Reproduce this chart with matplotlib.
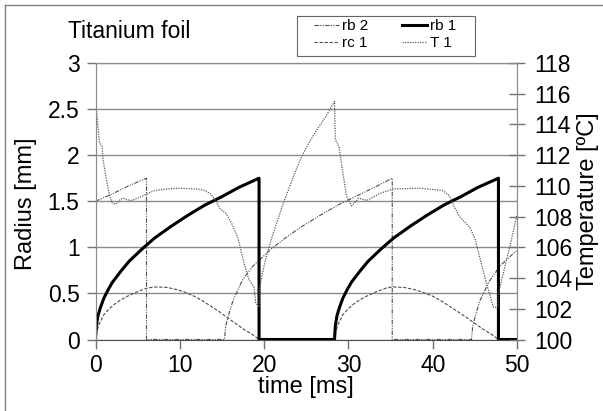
import matplotlib
matplotlib.use("Agg")
import matplotlib.pyplot as plt
from matplotlib.lines import Line2D
from matplotlib.patches import Rectangle

plt.rcParams["font.family"] = ["Liberation Sans", "DejaVu Sans"]

# bubble 1 radius [mm]
t_rb1 = [0, 0.1, 0.3, 0.6, 1.0, 1.5, 2.0, 3.0, 4.0, 5.5, 7.0, 9.0, 11.0, 13.0, 15.0, 17.0, 19.4,
         19.4, 28.35,
         28.45, 28.65, 28.95, 29.35, 29.85, 30.35, 31.35, 32.35, 33.85, 35.35, 37.35, 39.35, 41.35,
         43.35, 45.35, 47.8,
         47.8, 50]
rb1 = [0, 0.15, 0.26, 0.35, 0.45, 0.54, 0.62, 0.74, 0.85, 0.98, 1.1, 1.23, 1.35, 1.46, 1.55, 1.65, 1.75,
       0, 0,
       0.15, 0.26, 0.35, 0.45, 0.54, 0.62, 0.74, 0.85, 0.98, 1.1, 1.23, 1.35, 1.46,
       1.55, 1.65, 1.75,
       0, 0]

# bubble 2 radius [mm]
t_rb2 = [0, 2.0, 4.0, 6.05, 6.05, 15.3,
         15.45, 15.8, 16.3, 17.4, 18.6, 20.8, 22.5, 24.2, 26.5, 29.0, 31.5, 33.5, 35.2,
         35.2, 44.6,
         44.75, 45.1, 45.6, 46.7, 48.0, 50.0]
rb2 = [1.5, 1.58, 1.67, 1.75, 0, 0,
       0.15, 0.27, 0.42, 0.64, 0.79, 0.98, 1.1, 1.21, 1.34, 1.47, 1.58, 1.67, 1.75,
       0, 0,
       0.15, 0.27, 0.42, 0.63, 0.8, 0.97]

# contact radius of bubble 1 [mm]
t_rc1 = [0, 0.15, 0.4, 1.0, 1.6, 2.2, 3.0, 3.8, 5.0, 6.2, 7.2, 8.5, 9.7, 10.7, 11.7, 12.7, 13.7,
         14.7, 15.6, 16.6, 17.6, 18.6, 19.4,
         28.35, 28.5, 28.75, 29.35, 29.95, 30.55, 31.35, 32.15, 33.35, 34.55, 35.3, 36.6, 37.9,
         38.9, 40.0, 41.0, 42.0, 43.0, 44.0, 45.0, 46.0, 47.0, 47.8, 50]
rc1 = [0, 0.08, 0.16, 0.27, 0.33, 0.38, 0.43, 0.47, 0.52, 0.56, 0.57, 0.565, 0.54, 0.51, 0.47, 0.42, 0.36,
       0.30, 0.24, 0.175, 0.11, 0.055, 0,
       0, 0.08, 0.16, 0.27, 0.33, 0.38, 0.43, 0.47, 0.52, 0.56, 0.57, 0.565, 0.54,
       0.51, 0.47, 0.42, 0.36, 0.30, 0.24, 0.175, 0.11, 0.055, 0, 0]

# wall temperature [degC]
t_T1 = [0.0, 0.28, 0.48, 0.77, 0.9, 1.3, 1.7, 2.0, 2.3, 2.6, 3.0, 3.3, 3.7, 4.3, 5.0, 6.0, 7.0, 8.5,
        10.0, 12.0, 13.0, 13.6, 14.2, 14.8, 15.5, 16.3, 16.9, 17.6, 18.2, 18.8, 19.0, 19.4,
        19.45, 19.8, 20.3, 20.9, 21.5, 22.3, 23.2, 24.2, 25.2, 26.2, 27.3, 28.35,
        28.45, 28.6, 28.9, 29.3, 29.8, 30.4, 30.9, 31.2, 32.2, 33.7, 35.3, 38.5, 41.2, 42.0,
        42.6, 43.2, 44.4, 45.0, 45.6, 46.4, 47.2, 47.75, 47.8, 48.5, 49.3, 50.0]
T1 = [115.5, 113.9, 112.8, 112.6, 111.7, 110.4, 109.3, 108.9, 108.8, 108.9, 109.15, 109.2, 109.1,
      109.05, 109.2, 109.45, 109.7, 109.8,
      109.85, 109.8, 109.7, 109.5, 109.1, 108.5, 108.2, 107.4, 106.6, 105.0, 103.9, 103.4, 102.4, 102.1,
      103.3, 104.3, 105.5, 106.6, 107.6, 108.9, 110.2, 111.6, 112.7, 113.6, 114.5, 115.5,
      113.0, 112.9, 112.5, 111.0, 109.3, 108.7, 109.0, 109.2, 109.05, 109.5, 109.8, 109.85, 109.7, 109.35,
      108.6, 108.0, 107.3, 106.6, 105.3, 103.6, 102.1, 102.1, 103.0, 104.6, 106.4, 108.1]

x_ticks = [0, 10, 20, 30, 40, 50]
r_ticks = [0, 0.5, 1, 1.5, 2, 2.5, 3]
r_labels = ["0", "0.5", "1", "1.5", "2", "2.5", "3"]
T_ticks = [100, 102, 104, 106, 108, 110, 112, 114, 116, 118]

W, H = 603, 411


def desenhar():
    fig = plt.figure(figsize=(W / 100, H / 100), dpi=100)
    ax = fig.add_axes([95.5 / W, 1 - 339.5 / H, 421.5 / W, 276.5 / H])
    ax2 = ax.twinx()

    cor = "0.3"
    l_rb2, = ax.plot(t_rb2, rb2, color=cor, lw=0.8, dashes=(4, 1.2, 1, 1.2, 1, 1.2), label="rb 2")
    l_rc1, = ax.plot(t_rc1, rc1, color=cor, lw=0.8, dashes=(3, 1.5), label="rc 1")
    l_rb1, = ax.plot(t_rb1, rb1, color="black", lw=2.2, label="rb 1", zorder=5)
    l_T1, = ax2.plot(t_T1, T1, color="0.35", lw=0.9, dashes=(1, 1), label="T 1")

    ax.set_xlim(0, 50)
    ax.set_ylim(0, 3)
    ax2.set_ylim(100, 118)
    ax.set_xticks(x_ticks)
    ax.set_yticks(r_ticks)
    ax.set_yticklabels(r_labels)
    ax2.set_yticks(T_ticks)

    ax.yaxis.grid(True, color="0.55", lw=1)
    ax.set_axisbelow(True)

    for s in ["left", "right", "top"]:
        ax.spines[s].set_color("0.55")
        ax2.spines[s].set_color("0.55")
    ax.spines["bottom"].set_color("0.3")
    ax2.spines["bottom"].set_visible(False)

    fs = 16.5
    ax.tick_params(axis="both", labelsize=fs, colors="0.45", labelcolor="black",
                   length=6.5, width=1, direction="out", pad=5)
    ax.tick_params(axis="x", pad=4)
    ax2.tick_params(axis="y", labelsize=fs, colors="0.45", labelcolor="black",
                    length=11, width=1, direction="inout", pad=7)

    ax.set_xlabel("time [ms]", fontsize=17, labelpad=-1)
    ax.set_ylabel("Radius [mm]", fontsize=17)
    ax.yaxis.set_label_coords(-0.139, 0.49)
    ax2.set_ylabel("Temperature [ºC]", fontsize=17)
    ax2.yaxis.set_label_coords(1.142, 0.5)

    fig.text(68 / W, 1 - 32 / H, "Titanium foil", fontsize=16.5, va="center", ha="left")

    # caixa da legenda
    fig.add_artist(Rectangle((297 / W, 1 - 56 / H), 178 / W, 40 / H, transform=fig.transFigure,
                             facecolor="white", edgecolor="0.4", lw=0.8))
    fig.legend([l_rb2, l_rc1, l_rb1, l_T1], ["rb 2", "rc 1", "rb 1", "T 1"],
               ncol=2, loc="upper left", bbox_to_anchor=(314 / W, 1 - 19 / H),
               fontsize=11, frameon=False, handlelength=1.65, handletextpad=0.2,
               columnspacing=2.2, labelspacing=0.2, borderpad=0, borderaxespad=0)

    # moldura da figura
    fig.add_artist(Line2D([5 / W, 5 / W], [0, 1 - 5 / H], transform=fig.transFigure,
                          color="0.5", lw=1))
    fig.add_artist(Line2D([5 / W, 1], [1 - 5 / H, 1 - 5 / H], transform=fig.transFigure,
                          color="0.5", lw=1))

    fig.savefig("out.png", dpi=100)


if __name__ == "__main__":
    desenhar()
